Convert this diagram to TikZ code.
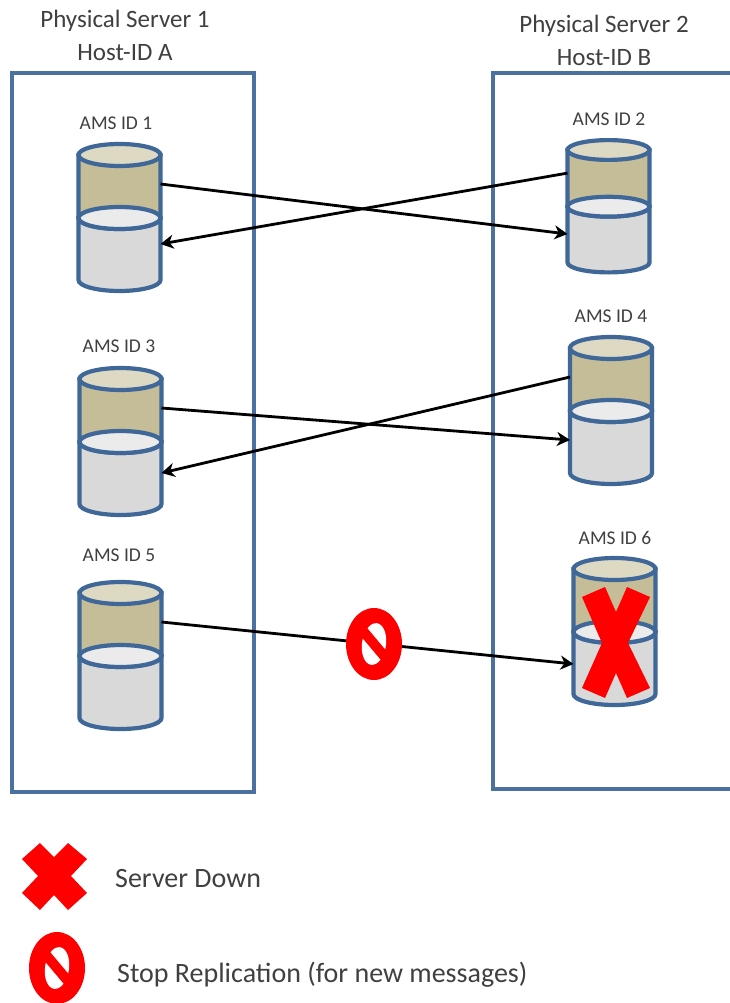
\documentclass[tikz,border=0pt]{standalone}
\usepackage{fontspec}
\usetikzlibrary{arrows.meta}
\setmainfont{Carlito}
\definecolor{boxblue}{HTML}{4A71A0}
\definecolor{dbblue}{HTML}{3F6797}
\definecolor{dbtan}{HTML}{C4BD97}
\definecolor{dbtanlight}{HTML}{DDD9C3}
\definecolor{dbgray}{HTML}{D9D9D9}
\definecolor{dbgraylight}{HTML}{EBEBEB}
\definecolor{labelgray}{HTML}{404040}
\definecolor{stopred}{HTML}{FF0000}

\tikzset{
    serverbox/.style={rectangle, draw=boxblue, line width=3.8pt, anchor=north west, outer sep=0pt},
    hostlabel/.style={font=\fontsize{25}{28}\selectfont, text=labelgray, inner sep=0pt},
    amslabel/.style={font=\fontsize{19.5}{21}\selectfont, text=labelgray, inner sep=0pt},
    legendlabel/.style={font=\fontsize{28}{31}\selectfont, text=labelgray, inner sep=0pt, anchor=west},
    repl/.style={-{Stealth[length=13pt, width=14pt, inset=4pt]}, line width=2.8pt, black},
    dbline/.style={draw=dbblue, line width=4.2pt},
    stopsign/.pic={
      \fill[stopred] (0,0) ellipse (28 and 36);
      \fill[white, rotate=-8] (0,0) ellipse (12 and 21);
      \fill[stopred, rotate=-50] (-18,-5) rectangle (18,5);
    },
    downcross/.pic={
      \fill[stopred] (-14,-33) -- (0,-19) -- (14,-33) -- (33,-17) -- (17,0) -- (33,17) -- (14,34)
        -- (0,19) -- (-14,34) -- (-32,17) -- (-16,0) -- (-32,-17) -- cycle;
    },
    bigcross/.pic={
      \fill[stopred] (-34,-45) -- (-11,-55) -- (0,-30) -- (11,-55) -- (34,-45) -- (12,1) -- (34,46)
        -- (11,56) -- (0,31) -- (-11,56) -- (-34,46) -- (-14,1) -- cycle;
    },
    amsdb/.pic={
      \path[dbline, fill=dbgray] (-41,63) -- (-41,125) arc[start angle=180, end angle=0, x radius=41, y radius=11] -- (41,63) -- cycle;
      \path[dbline, fill=dbtan] (-41,0) -- (-41,63) arc[start angle=180, end angle=0, x radius=41, y radius=11] -- (41,0) -- cycle;
      \path[dbline, fill=dbtanlight] (0,0) ellipse (41 and 11);
      \path[dbline, fill=dbgraylight] (0,63) ellipse (41 and 11);
      \coordinate (-e1) at (41,29);
      \coordinate (-e2) at (41,90);
      \coordinate (-w1) at (-41,29);
      \coordinate (-w2) at (-41,90);
    }
}

\begin{document}
\begin{tikzpicture}[x=1pt, y=-1pt]
  \useasboundingbox (0,0) rectangle (729,1003);

  \node[hostlabel] (host1a) at (125,21) {Physical Server 1};
  \node[hostlabel] (host1b) at (125,53) {Host-ID A};
  \node[hostlabel] (host2a) at (604,26) {Physical Server 2};
  \node[hostlabel] (host2b) at (604,58) {Host-ID B};

  \node[serverbox, minimum width=242pt, minimum height=719pt] (server1) at (12,73) {};
  \node[serverbox, minimum width=242pt, minimum height=716pt] (server2) at (493,73) {};

  \pic (db1) at (119.5,155) {amsdb};
  \pic[yscale=0.9] (db2) at (608.5,150) {amsdb};
  \pic (db3) at (120.5,379) {amsdb};
  \pic (db4) at (611,348) {amsdb};
  \pic (db5) at (120.5,593) {amsdb};
  \pic (db6) at (614.5,569) {amsdb};

  \node[amslabel] (ams1) at (116,123) {AMS ID 1};
  \node[amslabel] (ams2) at (609,119) {AMS ID 2};
  \node[amslabel] (ams3) at (119,346) {AMS ID 3};
  \node[amslabel] (ams4) at (611,316) {AMS ID 4};
  \node[amslabel] (ams5) at (119,555) {AMS ID 5};
  \node[amslabel] (ams6) at (615,538) {AMS ID 6};

  \draw[repl] (db1-e1) -- ([yshift=-3pt]db2-w2);
  \draw[repl] ([yshift=3pt]db2-w1) -- ([yshift=1pt]db1-e2);
  \draw[repl] (db3-e1) -- ([yshift=-2pt]db4-w2);
  \draw[repl] (db4-w1) -- ([yshift=-4pt]db3-e2);
  \draw[repl] (db5-e1) -- ([yshift=-5pt]db6-w2);

  \pic at (374,644) {stopsign};
  \pic at (616,642) {bigcross};

  \pic at (54,876) {downcross};
  \pic at (57,968) {stopsign};
  \node[legendlabel] (legenddown) at (115,878) {Server Down};
  \node[legendlabel] (legendstop) at (117,975) {Stop Replication (for new messages)};
\end{tikzpicture}
\end{document}
